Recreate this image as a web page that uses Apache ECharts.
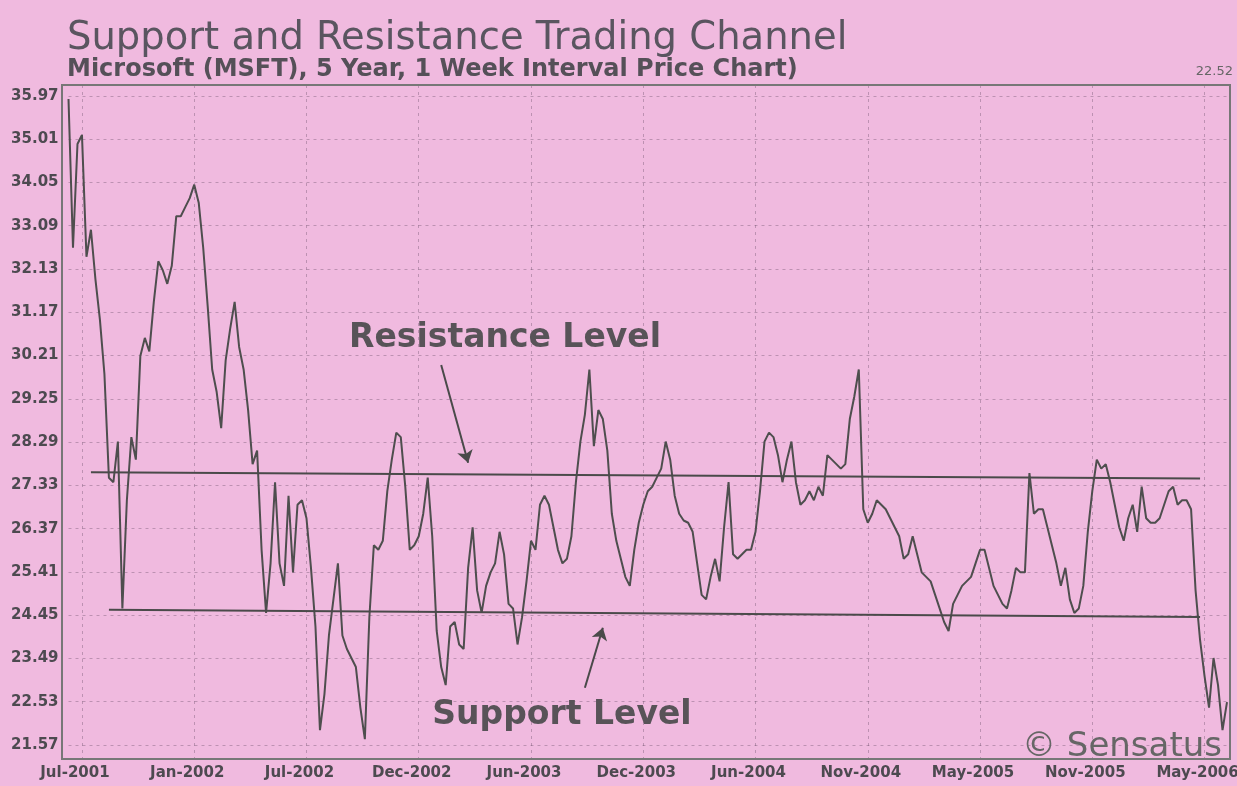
<!DOCTYPE html>
<html>
<head>
<meta charset="utf-8">
<script src="https://cdn.jsdelivr.net/npm/echarts@6/dist/echarts.min.js"></script>
<style>
html,body{margin:0;padding:0;background:#f0badf;}
#c{width:1237px;height:786px;}
</style>
</head>
<body>
<div id="c"></div>
<script>
// ---- data ----
const startDateUTC = Date.UTC(2001, 6, 2);   // first weekly bar
const weekCount = 259;
const categories = [];
for (let k = 0; k < weekCount; k++) {
  categories.push(new Date(startDateUTC + k * 7 * 864e5).toISOString().slice(0, 10));
}

const prices = [
  35.9, 32.6, 34.9, 35.1, 32.4, 33.0, 31.9, 31.0, 29.8, 27.5,
  27.4, 28.3, 24.6, 27.0, 28.4, 27.9, 30.2, 30.6, 30.3, 31.4,
  32.3, 32.1, 31.8, 32.2, 33.3, 33.3, 33.5, 33.7, 34.0, 33.6,
  32.6, 31.3, 29.9, 29.4, 28.6, 30.1, 30.8, 31.4, 30.4, 29.9,
  29.0, 27.8, 28.1, 25.9, 24.5, 25.6, 27.4, 25.6, 25.1, 27.1,
  25.4, 26.9, 27.0, 26.6, 25.5, 24.2, 21.9, 22.7, 24.0, 24.8,
  25.6, 24.0, 23.7, 23.5, 23.3, 22.4, 21.7, 24.4, 26.0, 25.9,
  26.1, 27.2, 27.9, 28.5, 28.4, 27.3, 25.9, 26.0, 26.2, 26.7,
  27.5, 26.2, 24.1, 23.3, 22.9, 24.2, 24.3, 23.8, 23.7, 25.5,
  26.4, 25.0, 24.5, 25.1, 25.4, 25.6, 26.3, 25.8, 24.7, 24.6,
  23.8, 24.4, 25.2, 26.1, 25.9, 26.9, 27.1, 26.9, 26.4, 25.9,
  25.6, 25.7, 26.2, 27.4, 28.3, 28.9, 29.9, 28.2, 29.0, 28.8,
  28.1, 26.7, 26.1, 25.7, 25.3, 25.1, 25.9, 26.5, 26.9, 27.2,
  27.3, 27.5, 27.7, 28.3, 27.9, 27.1, 26.7, 26.55, 26.5, 26.3,
  25.6, 24.9, 24.8, 25.3, 25.7, 25.2, 26.4, 27.4, 25.8, 25.7,
  25.8, 25.9, 25.9, 26.3, 27.2, 28.3, 28.5, 28.4, 28.0, 27.4,
  27.9, 28.3, 27.4, 26.9, 27.0, 27.2, 27.0, 27.3, 27.1, 28.0,
  27.9, 27.8, 27.7, 27.8, 28.8, 29.3, 29.9, 26.8, 26.5, 26.7,
  27.0, 26.9, 26.8, 26.6, 26.4, 26.2, 25.7, 25.8, 26.2, 25.8,
  25.4, 25.3, 25.2, 24.9, 24.6, 24.3, 24.1, 24.7, 24.9, 25.1,
  25.2, 25.3, 25.6, 25.9, 25.9, 25.5, 25.1, 24.9, 24.7, 24.6,
  25.0, 25.5, 25.4, 25.4, 27.6, 26.7, 26.8, 26.8, 26.4, 26.0,
  25.6, 25.1, 25.5, 24.8, 24.5, 24.6, 25.1, 26.3, 27.2, 27.9,
  27.7, 27.8, 27.4, 26.9, 26.4, 26.1, 26.6, 26.9, 26.3, 27.3,
  26.6, 26.5, 26.5, 26.6, 26.9, 27.2, 27.3, 26.9, 27.0, 27.0,
  26.8, 25.0, 23.9, 23.1, 22.4, 23.5, 22.9, 21.9, 22.52
];

const xTickIndex  = [3, 28, 53, 78, 103, 128, 153, 178, 203, 228, 253];
const xTickLabels = ['Jul-2001','Jan-2002','Jul-2002','Dec-2002','Jun-2003','Dec-2003',
                     'Jun-2004','Nov-2004','May-2005','Nov-2005','May-2006'];
const yTicks = [21.57, 22.53, 23.49, 24.45, 25.41, 26.37, 27.33, 28.29,
                29.25, 30.21, 31.17, 32.13, 33.09, 34.05, 35.01, 35.97];
const yRange = [21.26, 36.21];

// channel lines and annotation arrows, [weekIndex, price]
const resistanceLine  = [[5, 27.62], [252, 27.48]];
const supportLine     = [[9, 24.57], [252, 24.41]];
const resistanceArrow = [[83, 30.0], [89, 27.83]];
const supportArrow    = [[115, 22.84], [119, 24.17]];

const titleText    = 'Support and Resistance Trading Channel';
const subtitleText = 'Microsoft (MSFT), 5 Year, 1 Week Interval Price Chart)';

// ---- chart ----
const FONT = 'DejaVu Sans';
const gridLine = { color: 'rgba(105,80,105,0.38)', width: 1, type: [3, 4] };
const isTick = (idx) => xTickIndex.indexOf(idx) >= 0;

const chart = echarts.init(document.getElementById('c'), null, { renderer: 'canvas' });

function seg(pair, withArrow) {
  return [
    { coord: pair[0], symbol: 'none' },
    { coord: pair[1], symbol: withArrow ? 'arrow' : 'none' }
  ];
}

chart.setOption({
  animation: false,
  backgroundColor: '#f0badf',
  title: {
    text: titleText,
    subtext: subtitleText,
    left: 62, top: 14, itemGap: -2,
    textStyle: { fontFamily: FONT, fontSize: 38.5, fontWeight: 'normal', color: '#5a5560', lineHeight: 40 },
    subtextStyle: { fontFamily: FONT, fontSize: 24, fontWeight: 'bold', color: '#555058', lineHeight: 26 }
  },
  grid: { left: 68.5, right: 10, top: 85, bottom: 27, containLabel: false, outerBoundsMode: 'none' },
  xAxis: {
    type: 'category',
    data: categories,
    boundaryGap: false,
    axisLine: { show: false },
    axisTick: { show: false },
    axisLabel: {
      interval: (idx) => isTick(idx),
      formatter: (val, idx) => { const j = xTickIndex.indexOf(idx); return j >= 0 ? xTickLabels[j] : ''; },
      fontFamily: FONT, fontSize: 15, fontWeight: 'bold', color: '#4d4a50', margin: 7,
      padding: [0, 14, 0, 0]
    },
    splitLine: { show: true, interval: (idx) => isTick(idx), lineStyle: gridLine }
  },
  yAxis: {
    type: 'value',
    min: yRange[0], max: yRange[1],
    axisLine: { show: false },
    axisTick: { show: false, customValues: yTicks },
    axisLabel: {
      customValues: yTicks,
      formatter: (v) => v.toFixed(2),
      fontFamily: FONT, fontSize: 15, fontWeight: 'bold', color: '#4d4a50', margin: 10
    },
    splitLine: { show: true, lineStyle: gridLine }
  },
  series: [{
    type: 'line',
    data: prices,
    showSymbol: false,
    symbol: 'none',
    lineStyle: { color: '#4e4e4e', width: 2 },
    silent: true,
    markLine: {
      silent: true,
      symbolSize: 12,
      label: { show: false },
      lineStyle: { color: '#4a4a4a', width: 2, type: 'solid' },
      data: [
        seg(resistanceLine, false),
        seg(supportLine, false),
        seg(resistanceArrow, true),
        seg(supportArrow, true)
      ]
    }
  }],
  graphic: [
    { type: 'rect', silent: true, z: 10,
      shape: { x: 62, y: 85, width: 1168, height: 674 },
      style: { fill: 'none', stroke: '#777', lineWidth: 2 } },
    { type: 'text', silent: true, z: 11,
      style: { x: 1233, y: 72, text: String(prices[prices.length - 1]), align: 'right', verticalAlign: 'middle',
               font: '13px "DejaVu Sans"', fill: '#666' } },
    { type: 'text', silent: true, z: 11,
      style: { x: 505, y: 338, text: 'Resistance Level', align: 'center', verticalAlign: 'middle',
               font: 'bold 33px "DejaVu Sans"', fill: '#585358' } },
    { type: 'text', silent: true, z: 11,
      style: { x: 562, y: 715, text: 'Support Level', align: 'center', verticalAlign: 'middle',
               font: 'bold 33px "DejaVu Sans"', fill: '#585358' } },
    { type: 'text', silent: true, z: 11,
      style: { x: 1222, y: 747, text: '© Sensatus', align: 'right', verticalAlign: 'middle',
               font: '34px "DejaVu Sans"', fill: '#666' } }
  ]
});
</script>
</body>
</html>
